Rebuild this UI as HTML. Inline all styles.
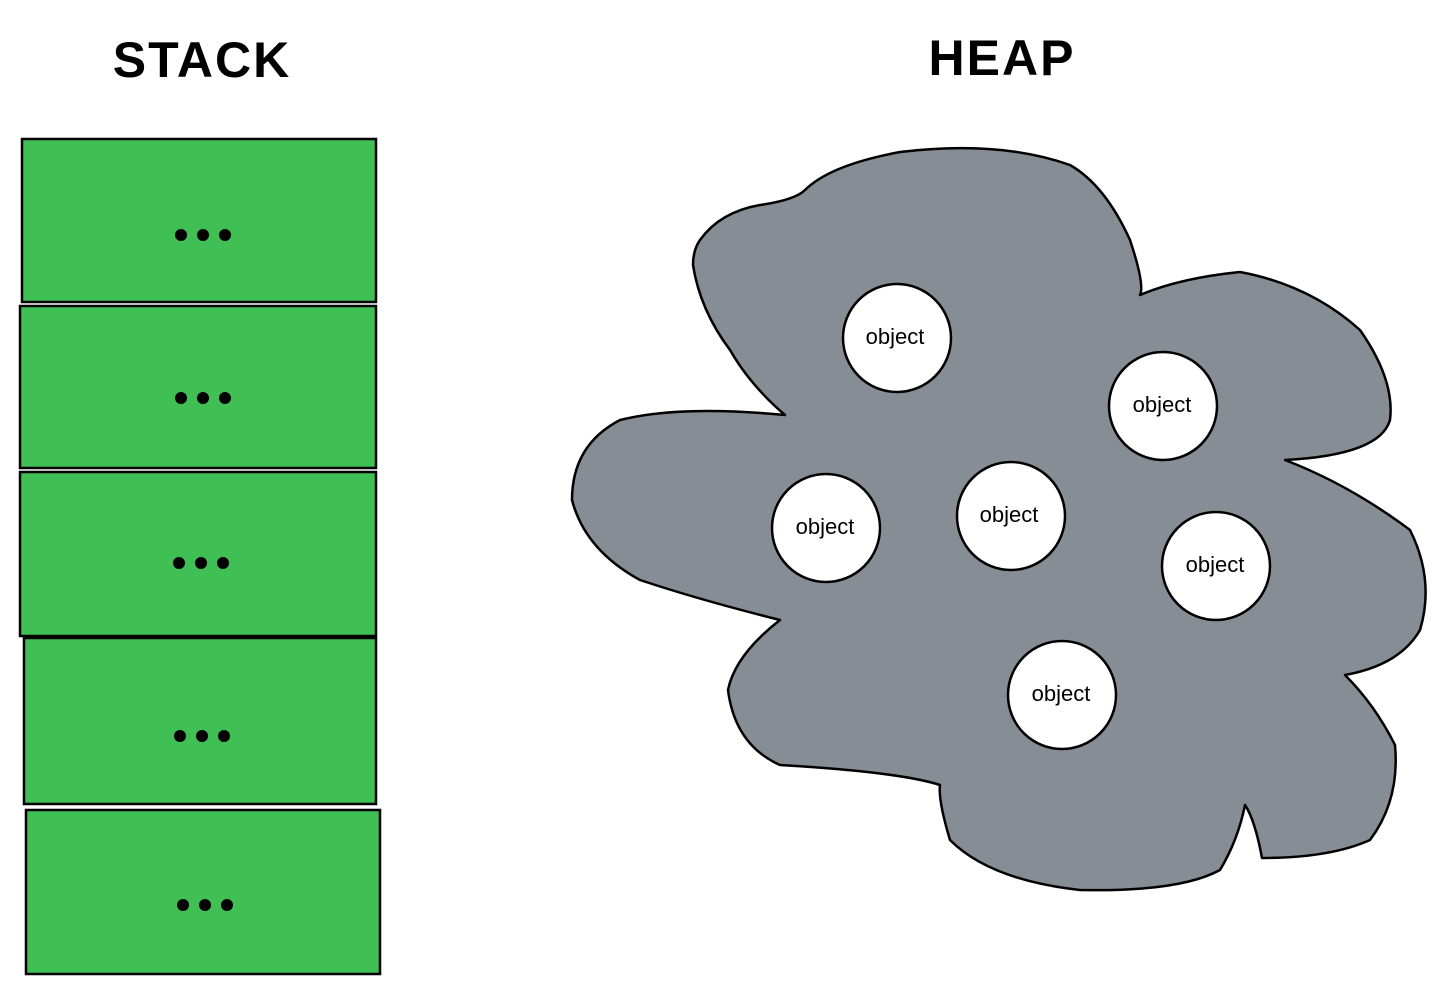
<!DOCTYPE html>
<html><head><style>html,body{margin:0;padding:0;background:#fff;}svg{display:block}</style></head>
<body>
<svg width="1456" height="996" viewBox="0 0 1456 996" xmlns="http://www.w3.org/2000/svg">
<g font-family="Liberation Sans, sans-serif" font-weight="bold" font-size="50" fill="#000">
<text x="202" y="77" text-anchor="middle" letter-spacing="2">STACK</text>
<text x="1002" y="75" text-anchor="middle" letter-spacing="2">HEAP</text>
</g>
<g fill="#40bf55" stroke="#000" stroke-width="2.5">
<rect x="22" y="139" width="354" height="163"/>
<rect x="20" y="306" width="356" height="162"/>
<rect x="20" y="472" width="356" height="164"/>
<rect x="24" y="638" width="352" height="166"/>
<rect x="26" y="810" width="354" height="164"/>
</g>
<g fill="#000">
<circle cx="181" cy="235" r="6"/><circle cx="203" cy="235" r="6"/><circle cx="225" cy="235" r="6"/>
<circle cx="181" cy="398" r="6"/><circle cx="203" cy="398" r="6"/><circle cx="225" cy="398" r="6"/>
<circle cx="179" cy="563" r="6"/><circle cx="201" cy="563" r="6"/><circle cx="223" cy="563" r="6"/>
<circle cx="180" cy="736" r="6"/><circle cx="202" cy="736" r="6"/><circle cx="224" cy="736" r="6"/>
<circle cx="183" cy="905" r="6"/><circle cx="205" cy="905" r="6"/><circle cx="227" cy="905" r="6"/>
</g>
<path fill="#868d94" stroke="#000" stroke-width="2.5" stroke-linejoin="round" d="M700,240 Q720,212 760,205 Q795,200 805,190 Q830,165 900,152 Q1000,140 1070,165 Q1105,185 1130,240 Q1145,285 1140,295 Q1180,278 1240,272 Q1310,285 1360,330 Q1395,380 1390,420 Q1380,455 1285,460 Q1350,485 1410,530 Q1435,580 1420,630 Q1400,665 1345,675 Q1375,705 1395,745 Q1400,800 1370,840 Q1330,858 1262,858 Q1255,820 1245,805 Q1238,840 1220,870 Q1180,892 1080,890 Q990,880 950,840 Q938,800 940,785 Q900,772 780,765 Q735,745 728,690 Q735,655 780,620 Q700,600 640,580 Q585,550 572,500 Q572,445 620,420 Q680,405 785,415 Q750,385 730,350 Q700,310 693,265 Q693,250 700,240 Z"/>
<g fill="#fff" stroke="#000" stroke-width="2.5">
<circle cx="897" cy="338" r="54"/>
<circle cx="1163" cy="406" r="54"/>
<circle cx="826" cy="528" r="54"/>
<circle cx="1011" cy="516" r="54"/>
<circle cx="1216" cy="566" r="54"/>
<circle cx="1062" cy="695" r="54"/>
</g>
<g font-family="Liberation Sans, sans-serif" font-size="22" fill="#000" text-anchor="middle">
<text x="895" y="344">object</text>
<text x="1162" y="412">object</text>
<text x="825" y="534">object</text>
<text x="1009" y="522">object</text>
<text x="1215" y="572">object</text>
<text x="1061" y="701">object</text>
</g>
</svg>
</body></html>
